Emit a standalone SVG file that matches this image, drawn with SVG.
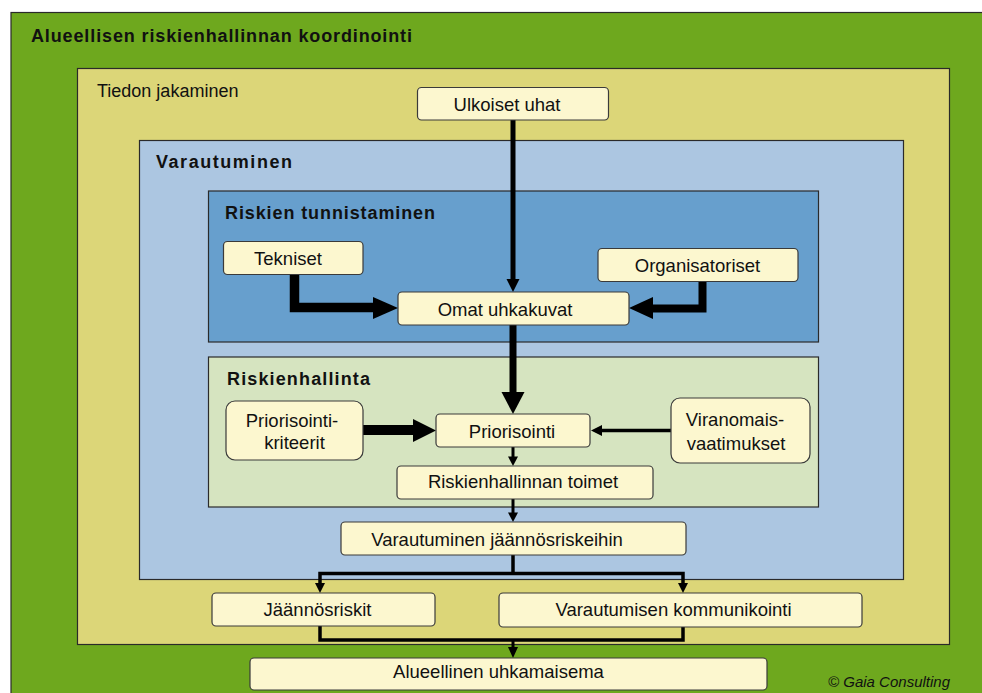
<svg xmlns="http://www.w3.org/2000/svg" width="982" height="693" viewBox="0 0 982 693">
  <style>
    .frame { stroke: #2a2a2a; stroke-width: 1.2; }
    .node rect { fill: #fcf7cf; stroke: #3a3a3a; stroke-width: 1.2; }
    .lbl { font-family: "Liberation Sans", Arial, sans-serif; font-size: 18.5px; fill: #111; text-anchor: middle; }
    .ttl { font-family: "Liberation Sans", Arial, sans-serif; font-size: 18px; font-weight: bold; fill: #111; }
    .sub { font-family: "Liberation Sans", Arial, sans-serif; font-size: 18px; fill: #111; }
    .wire { fill: none; stroke: #000; stroke-linejoin: miter; }
    .head { fill: #000; }
  </style>

  <rect width="982" height="693" fill="#ffffff"/>

  <!-- nested areas -->
  <g id="area-koordinointi">
    <rect class="frame" x="11" y="12.5" width="1000" height="700" fill="#6ea81e"/>
    <text class="ttl" x="31" y="42" textLength="381" lengthAdjust="spacing">Alueellisen riskienhallinnan koordinointi</text>
  </g>
  <g id="area-tiedon-jakaminen">
    <rect class="frame" x="77.5" y="68.5" width="872" height="576" fill="#dcd678"/>
    <text class="sub" x="97" y="97">Tiedon jakaminen</text>
  </g>
  <g id="area-varautuminen">
    <rect class="frame" x="139.5" y="140.5" width="764" height="439" fill="#acc6e1"/>
    <text class="ttl" x="156" y="168" textLength="136" lengthAdjust="spacing">Varautuminen</text>
  </g>
  <g id="area-riskien-tunnistaminen">
    <rect class="frame" x="208.5" y="191" width="610" height="151" fill="#679fcd"/>
    <text class="ttl" x="225" y="219" textLength="210" lengthAdjust="spacing">Riskien tunnistaminen</text>
  </g>
  <g id="area-riskienhallinta">
    <rect class="frame" x="208.5" y="357" width="610" height="150" fill="#d6e4c0"/>
    <text class="ttl" x="227" y="384.5" textLength="143" lengthAdjust="spacing">Riskienhallinta</text>
  </g>

  <!-- connectors -->
  <g id="connectors">
    <!-- Ulkoiset uhat -> Omat uhkakuvat -->
    <line class="wire" x1="513" y1="120" x2="513" y2="280" stroke-width="5"/>
    <polygon class="head" points="506.5,279 519.5,279 513,292"/>
    <!-- Tekniset -> Omat uhkakuvat -->
    <polyline class="wire" points="294.5,274 294.5,307.5 374,307.5" stroke-width="9.5"/>
    <polygon class="head" points="373,297 398,308 373,319"/>
    <!-- Organisatoriset -> Omat uhkakuvat -->
    <polyline class="wire" points="702.5,281 702.5,308.5 652,308.5" stroke-width="8"/>
    <polygon class="head" points="653,297 629,308 653,319"/>
    <!-- Omat uhkakuvat -> Priorisointi -->
    <line class="wire" x1="513" y1="325" x2="513" y2="393" stroke-width="7"/>
    <polygon class="head" points="501.5,392 524.5,392 513,414"/>
    <!-- Priorisointikriteerit -> Priorisointi -->
    <line class="wire" x1="363" y1="430" x2="414" y2="430" stroke-width="10"/>
    <polygon class="head" points="413,419 436,430.5 413,442"/>
    <!-- Viranomaisvaatimukset -> Priorisointi -->
    <line class="wire" x1="671" y1="430.5" x2="601" y2="430.5" stroke-width="3.5"/>
    <polygon class="head" points="602,425 591,430.5 602,436"/>
    <!-- Priorisointi -> Riskienhallinnan toimet -->
    <line class="wire" x1="513" y1="447" x2="513" y2="458" stroke-width="3"/>
    <polygon class="head" points="508,456.5 518,456.5 513,466"/>
    <!-- Riskienhallinnan toimet -> Varautuminen jäännösriskeihin -->
    <line class="wire" x1="513" y1="499" x2="513" y2="514" stroke-width="3"/>
    <polygon class="head" points="508,512.5 518,512.5 513,522"/>
    <!-- split to Jäännösriskit / Varautumisen kommunikointi -->
    <line class="wire" x1="513" y1="555" x2="513" y2="573.5" stroke-width="3.5"/>
    <polyline class="wire" points="320,585 320,573.5 683,573.5 683,585" stroke-width="3.5"/>
    <polygon class="head" points="315,583 325,583 320,593"/>
    <polygon class="head" points="678,583 688,583 683,593"/>
    <!-- merge to Alueellinen uhkamaisema -->
    <polyline class="wire" points="320,626 320,640 683,640 683,627" stroke-width="3.5"/>
    <line class="wire" x1="513" y1="640" x2="513" y2="649" stroke-width="3"/>
    <polygon class="head" points="508,647 518,647 513,658"/>
  </g>

  <!-- nodes -->
  <g id="node-ulkoiset-uhat" class="node">
    <rect x="417.5" y="87.5" width="191" height="32.5" rx="4"/>
    <text class="lbl" x="507" y="111">Ulkoiset uhat</text>
  </g>
  <g id="node-tekniset" class="node">
    <rect x="223.5" y="241.5" width="139.5" height="33" rx="4"/>
    <text class="lbl" x="288" y="265">Tekniset</text>
  </g>
  <g id="node-organisatoriset" class="node">
    <rect x="598" y="248.5" width="200" height="33" rx="4"/>
    <text class="lbl" x="697.5" y="272">Organisatoriset</text>
  </g>
  <g id="node-omat-uhkakuvat" class="node">
    <rect x="398" y="292" width="231" height="33" rx="4"/>
    <text class="lbl" x="505" y="316">Omat uhkakuvat</text>
  </g>
  <g id="node-priorisointikriteerit" class="node">
    <rect x="226" y="401" width="137" height="59" rx="9"/>
    <text class="lbl" x="292" y="427">Priorisointi-</text>
    <text class="lbl" x="294.5" y="449">kriteerit</text>
  </g>
  <g id="node-priorisointi" class="node">
    <rect x="436" y="414" width="154" height="33" rx="4"/>
    <text class="lbl" x="512" y="438">Priorisointi</text>
  </g>
  <g id="node-viranomaisvaatimukset" class="node">
    <rect x="671" y="398" width="139" height="65" rx="9"/>
    <text class="lbl" x="735" y="426">Viranomais-</text>
    <text class="lbl" x="736" y="450">vaatimukset</text>
  </g>
  <g id="node-riskienhallinnan-toimet" class="node">
    <rect x="397" y="466" width="256" height="33" rx="4"/>
    <text class="lbl" x="523" y="488">Riskienhallinnan toimet</text>
  </g>
  <g id="node-varautuminen-jaannosriskeihin" class="node">
    <rect x="341" y="522" width="345" height="33" rx="4"/>
    <text class="lbl" x="497" y="546">Varautuminen jäännösriskeihin</text>
  </g>
  <g id="node-jaannosriskit" class="node">
    <rect x="212" y="593" width="223" height="33" rx="4"/>
    <text class="lbl" x="317.5" y="616">Jäännösriskit</text>
  </g>
  <g id="node-varautumisen-kommunikointi" class="node">
    <rect x="499" y="593" width="363" height="34" rx="4"/>
    <text class="lbl" x="673.5" y="616">Varautumisen kommunikointi</text>
  </g>
  <g id="node-alueellinen-uhkamaisema" class="node">
    <rect x="250" y="658" width="517" height="32" rx="4"/>
    <text class="lbl" x="498.5" y="678">Alueellinen uhkamaisema</text>
  </g>

  <text x="950" y="687" text-anchor="end" font-family="'Liberation Sans', Arial, sans-serif" font-size="15" font-style="italic" fill="#111">© Gaia Consulting</text>
</svg>
